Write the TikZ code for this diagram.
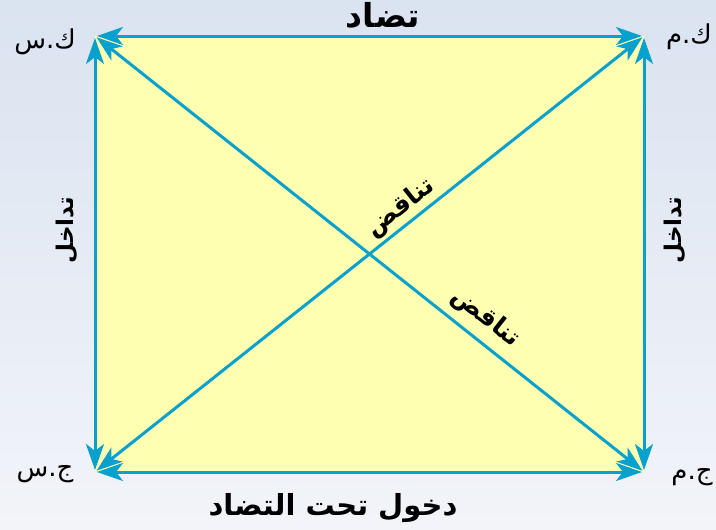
\documentclass[tikz,border=0pt]{standalone}
\usepackage{fontspec}
\usetikzlibrary{arrows.meta}
\newfontfamily\arabicfont[Script=Arabic]{DejaVu Sans}
\TeXXeTstate=1
\definecolor{bgtop}{RGB}{218,227,240}
\definecolor{bgbot}{RGB}{242,244,249}
\definecolor{sqfill}{RGB}{255,255,178}
\definecolor{arrowblue}{RGB}{8,160,204}
\tikzset{
  rel/.style={draw=arrowblue, line width=3pt, shorten <=2pt, shorten >=2pt,
    {Stealth[length=26pt,width=18pt,inset=7pt]}-{Stealth[length=26pt,width=18pt,inset=7pt]}},
  corner/.style={font=\arabicfont\fontsize{26}{26}\selectfont, inner sep=0pt},
  relname/.style={font=\arabicfont\bfseries\fontsize{29}{29}\selectfont, inner sep=0pt},
  sidename/.style={font=\arabicfont\bfseries\fontsize{23}{23}\selectfont, inner sep=0pt},
  diagname/.style={font=\arabicfont\bfseries\fontsize{25}{25}\selectfont, inner sep=0pt}
}
\begin{document}
\begin{tikzpicture}[x=1pt,y=-1pt]
\useasboundingbox (0,0) rectangle (716,530);
\shade[top color=bgtop, bottom color=bgbot] (0,0) rectangle (716,530);
\coordinate (TL) at (95,36);
\coordinate (TR) at (644,36);
\coordinate (BL) at (95,472);
\coordinate (BR) at (644,472);
\fill[sqfill] (TL) rectangle (BR);
\draw[rel] (TL) -- (TR);
\draw[rel] (BL) -- (BR);
\draw[rel] (BL) -- (TL);
\draw[rel] (BR) -- (TR);
\draw[rel] (BL) -- (TR);
\draw[rel] (TL) -- (BR);
\node[corner] (ks) at (45,42) {\beginR ك.س\endR};
\node[corner] (km) at (689,37) {\beginR ك.م\endR};
\node[corner] (js) at (45,474) {\beginR ج.س\endR};
\node[corner] (jm) at (692,477) {\beginR ج.م\endR};
\node[relname, font=\arabicfont\bfseries\fontsize{33}{33}\selectfont] (top) at (383,15) {\beginR تضاد\endR};
\node[relname] (bot) at (333,508) {\beginR دخول تحت التضاد\endR};
\node[sidename, rotate=90] (left) at (67,230) {\beginR تداخل\endR};
\node[sidename, rotate=90] (right) at (675,230) {\beginR تداخل\endR};
\node[diagname, rotate=38.5] (d1) at (401,208) {\beginR تناقض\endR};
\node[diagname, rotate=-38.5] (d2) at (486,318) {\beginR تناقض\endR};
\end{tikzpicture}
\end{document}
